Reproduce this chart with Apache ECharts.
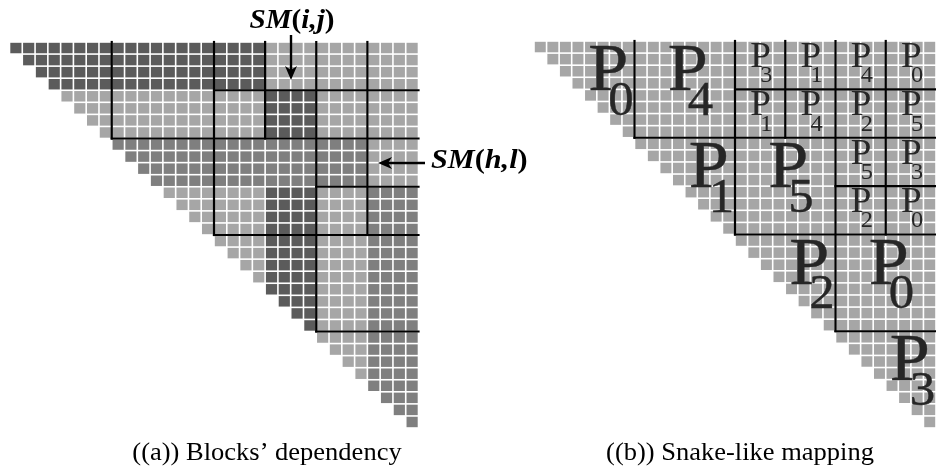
<!DOCTYPE html>
<html><head><meta charset="utf-8">
<script src="https://cdn.jsdelivr.net/npm/echarts@6/dist/echarts.min.js"></script>
<style>html,body{margin:0;padding:0;background:#fff}#c{width:936px;height:470px}</style>
</head><body><div id="c"></div>
<script>
// ---- data ----
const matrixSize = 32;          // cells per side (upper-triangular)
const shadeBlock = 4;           // shade pattern given per 4x4 block
// D = dark (SM(i,j) and its dependencies), M = medium, L = light; '-' = below diagonal
const shadesA = ["DDDDDLLL", "-LLLLDLL", "--MMMMML", "---LLDLM", "----LDLM", "-----DLM", "------LM", "-------M"];
const shadesB = ["LLLLLLLL", "-LLLLLLL", "--LLLLLL", "---LLLLL", "----LLLL", "-----LLL", "------LL", "-------L"];
// block boundary segments [col1,row1,col2,row2] in cell units
const blockLines = [[8,0,8,8],[8,8,32,8],[16,0,16,16],[16,16,32,16],[24,0,24,24],[24,24,32,24],[16,4,32,4],[20,0,20,8],[28,0,28,16],[24,12,32,12]];
// processor labels: [blockRow, blockCol, processor]
const bigLabels = [[0,0,0],[0,8,4],[8,8,1],[8,16,5],[16,16,2],[16,24,0],[24,24,3]];
const smallLabels = [[0,16,3],[0,20,1],[0,24,4],[0,28,0],[4,16,1],[4,20,4],[4,24,2],[4,28,5],[8,24,5],[8,28,3],[12,24,2],[12,28,0]];
const captions = ["((a)) Blocks\u2019 dependency", "((b)) Snake-like mapping"];

const shadeColors = {D: '#5b5b5b', M: '#7f7f7f', L: '#a6a6a6'};

function cellData(shades) {
  const out = [];
  for (let r = 0; r < matrixSize; r++) {
    for (let c = r; c < matrixSize; c++) {
      const s = shades[Math.floor(r / shadeBlock)][Math.floor(c / shadeBlock)];
      out.push({value: [c, r], itemStyle: {color: shadeColors[s]}});
    }
  }
  return out;
}

function renderCell(params, api) {
  const c = api.value(0), r = api.value(1);
  const p0 = api.coord([c, r]), p1 = api.coord([c + 1, r + 1]);
  const g = 0.8;
  return {type: 'rect', shape: {x: p0[0] + g, y: p0[1] + g, width: p1[0] - p0[0] - 2 * g, height: p1[1] - p0[1] - 2 * g},
    style: {fill: api.visual('color')}};
}
function renderSeg(params, api) {
  const a = api.coord([api.value(0), api.value(1)]);
  const b = api.coord([api.value(2), api.value(3)]);
  return {type: 'line', shape: {x1: a[0], y1: a[1], x2: b[0], y2: b[1]}, style: {stroke: '#000', lineWidth: 2.2, lineCap: 'square'}};
}
const serif = '"Liberation Serif", "Times New Roman", serif';
function labelRenderer(size, big) {
  return function (params, api) {
    const r = api.value(0), c = api.value(1), p = api.value(2);
    const ctr = api.coord([c + size / 2, r + size / 2]);
    const diag = r === c;
    const S = big ? {fP: 68, fS: 48, px: diag ? 4 : -17, py: -17, sx: 20, sy: 13, lw: 0.4}
                  : {fP: 35, fS: 23, px: -10, py: -7.5, sx: 10, sy: 11, lw: 0};
    const st = {fontFamily: serif, fill: '#262626', stroke: S.lw ? '#262626' : null, lineWidth: S.lw, align: 'left', verticalAlign: 'middle'};
    return {type: 'group', children: [
      {type: 'text', x: ctr[0] + S.px, y: ctr[1] + S.py, scaleX: 1.06, style: Object.assign({text: 'P', fontSize: S.fP}, st)},
      {type: 'text', x: ctr[0] + S.px + S.sx, y: ctr[1] + S.sy, scaleX: 1.06, style: Object.assign({text: String(p), fontSize: S.fS}, st)}
    ]};
  };
}

const grids = [
  {left: 9.5, top: 42, width: 409, height: 386},
  {left: 534, top: 41, width: 411, height: 387}
];
const xAxes = grids.map((g, i) => ({gridIndex: i, type: 'value', min: 0, max: matrixSize, show: false}));
const yAxes = grids.map((g, i) => ({gridIndex: i, type: 'value', min: 0, max: matrixSize, inverse: true, show: false}));

const series = [];
[shadesA, shadesB].forEach((sh, i) => {
  series.push({type: 'custom', xAxisIndex: i, yAxisIndex: i, renderItem: renderCell, data: cellData(sh), clip: false, silent: true});
  series.push({type: 'custom', xAxisIndex: i, yAxisIndex: i, renderItem: renderSeg, data: blockLines, encode: {x: [0, 2], y: [1, 3]}, clip: false, silent: true, z: 3});
});
series.push({type: 'custom', xAxisIndex: 1, yAxisIndex: 1, renderItem: labelRenderer(8, true), data: bigLabels, encode: {x: 1, y: 0}, clip: false, silent: true, z: 4});
series.push({type: 'custom', xAxisIndex: 1, yAxisIndex: 1, renderItem: labelRenderer(4, false), data: smallLabels, encode: {x: 1, y: 0}, clip: false, silent: true, z: 4});

const smRich = {
  a: {fontFamily: serif, fontSize: 27, fontWeight: 'bold', fontStyle: 'italic', color: '#000'},
  b: {fontFamily: serif, fontSize: 27, fontWeight: 'bold', color: '#000'}
};
const arrowStyle = {stroke: '#000', lineWidth: 2.4};
const graphic = {elements: [
  {type: 'text', z: 100, x: 292, y: 21, scaleX: 1.08, style: {rich: smRich, text: '{a|SM}{b|(}{a|i,j}{b|)}', align: 'center', verticalAlign: 'middle'}},
  {type: 'line', z: 100, shape: {x1: 291, y1: 35, x2: 291, y2: 72}, style: arrowStyle},
  {type: 'polygon', z: 100, shape: {points: [[285, 66], [291, 80], [297, 66], [291, 70]]}, style: {fill: '#000'}},
  {type: 'text', z: 100, x: 431, y: 161, scaleX: 1.12, style: {rich: smRich, text: '{a|SM}{b|(}{a|h,l}{b|)}', align: 'left', verticalAlign: 'middle'}},
  {type: 'line', z: 100, shape: {x1: 384, y1: 163, x2: 425, y2: 163}, style: arrowStyle},
  {type: 'polygon', z: 100, shape: {points: [[392, 157], [378, 163], [392, 169], [388, 163]]}, style: {fill: '#000'}},
  {type: 'text', z: 100, x: 267, y: 453, scaleX: 1.06, style: {text: captions[0], fontFamily: serif, fontSize: 25, fill: '#000', align: 'center', verticalAlign: 'middle'}},
  {type: 'text', z: 100, x: 740, y: 453, scaleX: 1.06, style: {text: captions[1], fontFamily: serif, fontSize: 25, fill: '#000', align: 'center', verticalAlign: 'middle'}}
]};

const chart = echarts.init(document.getElementById('c'), null, {renderer: 'canvas'});
chart.setOption({
  backgroundColor: '#fff',
  animation: false,
  grid: grids,
  xAxis: xAxes,
  yAxis: yAxes,
  series: series,
  graphic: graphic
});
</script>
</body></html>
